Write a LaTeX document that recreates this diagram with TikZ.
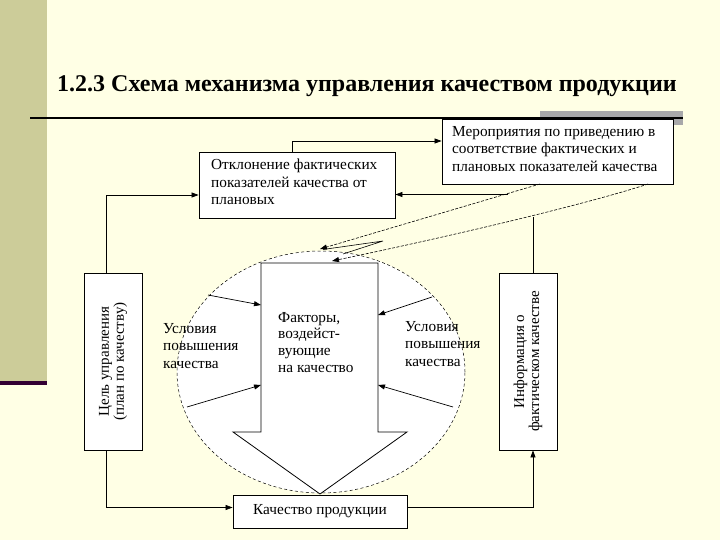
\documentclass[tikz,border=0pt]{standalone}
\usepackage{fontspec}
\setmainfont{Liberation Serif}
\usetikzlibrary{arrows.meta,calc}
\definecolor{cream}{RGB}{255,255,229}
\definecolor{khaki}{RGB}{204,204,153}
\definecolor{darkp}{RGB}{51,0,51}
\definecolor{barg}{RGB}{168,168,170}
\begin{document}
\begin{tikzpicture}[x=1pt,y=-1pt,
  box/.style={draw, fill=white, line width=0.8pt, inner sep=0pt},
  txt/.style={font=\fontsize{15.3}{17.5}\selectfont, align=left, inner sep=0pt},
  arr/.style={-{Triangle[length=7pt,width=5pt]}, line width=0.7pt},
  dsh/.style={dash pattern=on 3pt off 1.5pt, line width=0.6pt}]
\useasboundingbox (0,0) rectangle (720,540);
% background
\fill[cream] (0,0) rectangle (720,540);
\fill[khaki] (0,0) rectangle (47,381);
\fill[darkp] (0,381) rectangle (47,385);
% title
\node[anchor=base west, inner sep=0pt, font=\bfseries\fontsize{24}{27}\selectfont] (title) at (57,92) {1.2.3 Схема механизма управления качеством продукции};
\fill[barg] (540,111) rectangle (683,119);
\fill[barg] (673,111) rectangle (683,125);
\draw[line width=2pt] (30,118.5) -- (683,118.5);
% ellipse and block arrow
\coordinate (ec) at (321,372);
\fill[white] (ec) ellipse [x radius=144pt, y radius=121pt];
\draw[dash pattern=on 3pt off 2.5pt, line width=0.5pt] (ec) ellipse [x radius=144pt, y radius=121pt];
\draw[fill=white, line width=0.8pt] (261,263) -- (378,263) -- (378,432) -- (407,432) -- (320,494) -- (233,432) -- (261,432) -- cycle;
% boxes
\node[box, minimum width=196pt, minimum height=66pt] (b1) at (297,185) {};
\node[txt, anchor=west] (t1) at (211,182) {Отклонение фактических\\показателей качества от\\плановых};
\node[box, minimum width=231pt, minimum height=65pt] (b2) at (557.5,151.5) {};
\node[txt, anchor=west] (t2) at (452,149) {Мероприятия по приведению в\\соответствие фактических и\\плановых показателей качества};
\node[box, minimum width=58pt, minimum height=177pt] (lb) at (113,361.5) {};
\node[txt, align=center, rotate=90, font=\fontsize{15}{15}\selectfont] (tl) at (lb.center) {Цель управления\\(план по качеству)};
\node[box, minimum width=58pt, minimum height=177pt] (rb) at (528,361.5) {};
\node[txt, align=center, rotate=90, font=\fontsize{15}{15}\selectfont] (tr) at (rb.center) {Информация о\\фактическом качестве};
\node[box, minimum width=174pt, minimum height=33pt] (q) at (320,511.5) {};
\node[txt] (tq) at (q.center) {Качество продукции};
% inner texts
\node[txt, anchor=north west, font=\fontsize{15.3}{16.7}\selectfont] (tf) at (278,312) {Факторы,\\воздейст-\\вующие\\на качество};
\node[txt, anchor=north west] (tu1) at (163,323) {Условия\\повышения\\качества};
\node[txt, anchor=north west] (tu2) at (405,321) {Условия\\повышения\\качества};
% inner arrows
\coordinate (e1) at (208,295);
\coordinate (e2) at (187,407);
\coordinate (e3) at (432,297);
\coordinate (e4) at (453,407);
\coordinate (a1) at (261,305);
\coordinate (a2) at (261,385);
\coordinate (a3) at (378,315);
\coordinate (a4) at (378,385);
\draw[arr] (e1) -- (a1);
\draw[arr] (e2) -- (a2);
\draw[arr] (e3) -- (a3);
\draw[arr] (e4) -- (a4);
% connectors
\draw[arr] ($(lb.north)+(-7,0)$) |- ($(b1.west)+(0,10)$);
\draw[arr] ($(lb.south)+(-7,0)$) |- ($(q.west)+(0,-4)$);
\draw[arr] ($(q.east)+(0,-4)$) -| ($(rb.south)+(5,0)$);
\draw[arr] ($(b1.north)+(-5,0)$) |- ($(b2.west)+(0,-10.5)$);
% dashed lines from b2
\coordinate (sA) at (540,184);
\coordinate (tA) at (320,249);
\coordinate (mA) at (508,194.5);
\coordinate (sB) at (648,184);
\coordinate (tB) at (332,261);
\coordinate (mB) at (533,217);
\coordinate (v) at (383,241);
\draw[arr, dsh] (sA) -- (tA);
\draw[arr, dsh] (sB) .. controls (600,200) and (480,230) .. (tB);
\draw[arr] (mA) -- (b1.east |- mA);
\draw[line width=0.7pt] ($(rb.north)+(5,0)$) -- (mB);
\draw[line width=0.6pt] (v) -- (323,249.5) (v) -- (343,254);
\end{tikzpicture}
\end{document}
